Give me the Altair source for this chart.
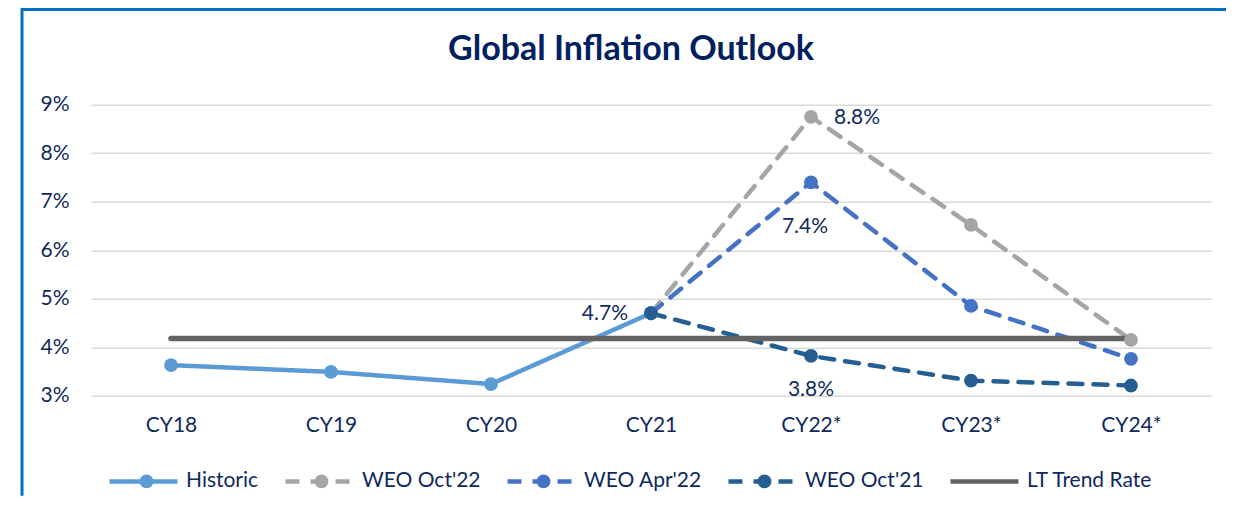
import altair as alt
import pandas as pd

# ---------------- data ----------------
categories = ["CY18", "CY19", "CY20", "CY21", "CY22*", "CY23*", "CY24*"]
series_names = ["Historic", "WEO Oct'22", "WEO Apr'22", "WEO Oct'21", "LT Trend Rate"]

historic = [3.63, 3.49, 3.24, 4.70, None, None, None]
weo_oct22 = [None, None, None, 4.70, 8.75, 6.52, 4.15]
weo_apr22 = [None, None, None, 4.70, 7.40, 4.85, 3.76]
weo_oct21 = [None, None, None, 4.70, 3.82, 3.31, 3.21]
lt_trend = [4.18, 4.18, 4.18, 4.18, 4.18, 4.18, 4.18]

label_series = ["WEO Oct'22", "WEO Apr'22", "WEO Oct'21", "WEO Oct'21"]
label_cats = ["CY22*", "CY22*", "CY22*", "CY21"]
label_texts = ["8.8%", "7.4%", "3.8%", "4.7%"]

series_colors = ["#5B9BD5", "#A5A5A5", "#4472C4", "#255E91", "#636363"]
dash_styles = [[1, 0], [14, 11], [14, 11], [14, 11], [1, 0]]

NAVY = "#0F2A5C"
FONT = "Lato"

# ---------------- tables ----------------
rows = []
for name, vals in zip(series_names[:4], [historic, weo_oct22, weo_apr22, weo_oct21]):
    for i, (c, v) in enumerate(zip(categories, vals)):
        if v is not None:
            rows.append({"series": name, "cat": c, "value": v, "idx": i})
df = pd.DataFrame(rows)
df_lt = pd.DataFrame({"series": "LT Trend Rate", "cat": categories, "value": lt_trend,
                      "idx": list(range(len(categories)))})

lab_rows = []
for s, c, t in zip(label_series, label_cats, label_texts):
    v = df[(df.series == s) & (df.cat == c)].value.iloc[0]
    lab_rows.append({"series": s, "cat": c, "value": v, "text": t})
df_lab = pd.DataFrame(lab_rows)

# ---------------- encodings ----------------
x_enc = alt.X("cat:N", sort=categories,
              scale=alt.Scale(type="point", domain=categories, padding=0.5),
              axis=alt.Axis(title=None, domain=False, ticks=False, grid=False, labelAngle=0,
                            labelPadding=19, labelFontSize=21, labelColor=NAVY, labelFont=FONT))
y_enc = alt.Y("value:Q", scale=alt.Scale(domain=[3, 9], nice=False, zero=False),
              axis=alt.Axis(title=None, values=[3, 4, 5, 6, 7, 8, 9], labelExpr="datum.value + '%'",
                            domain=False, ticks=False, grid=True, gridColor="#D9D9D9",
                            gridWidth=1.5, labelPadding=22, labelFontSize=21,
                            labelColor=NAVY, labelFont=FONT))
color_scale = alt.Scale(domain=series_names, range=series_colors)

LEG_X, LEG_Y = 16, 340
line_leg = alt.Legend(title=None, orient="none", legendX=LEG_X, legendY=LEG_Y,
                      direction="horizontal", symbolType="stroke", symbolSize=4624,
                      symbolStrokeWidth=4.5, labelFont=FONT, labelFontSize=21,
                      labelColor=NAVY, labelOffset=6, columnPadding=17)
# marker dots drawn over the middle of each line symbol (labels hidden)
dot_leg = alt.Legend(title=None, orient="none", legendX=LEG_X + 29, legendY=LEG_Y + 26,
                     direction="horizontal", symbolType="circle", symbolSize=190,
                     symbolStrokeWidth=0, labelFont=FONT, labelFontSize=21,
                     labelOpacity=0, labelOffset=64.4, columnPadding=17)

lines = alt.Chart(df).mark_line(strokeWidth=4.5, strokeCap="round").encode(
    x=x_enc, y=y_enc,
    color=alt.Color("series:N", scale=color_scale, legend=line_leg),
    strokeDash=alt.StrokeDash("series:N", scale=alt.Scale(domain=series_names, range=dash_styles),
                              legend=line_leg),
    order="idx:Q",
)

lt_line = alt.Chart(df_lt).mark_line(strokeWidth=5.5, strokeCap="round", color="#636363").encode(
    x=x_enc, y=y_enc, order="idx:Q"
)

points = alt.Chart(df).mark_circle(size=190, opacity=1).encode(
    x=x_enc, y=y_enc,
    fill=alt.Fill("series:N", scale=alt.Scale(domain=series_names[:4], range=series_colors[:4]),
                  legend=dot_leg),
)

txt_kw = dict(font=FONT, fontSize=21, color=NAVY, baseline="middle")
lab_oct22 = alt.Chart(df_lab).transform_filter(alt.datum.text == "8.8%").mark_text(
    align="left", dx=23, dy=1, **txt_kw).encode(x=x_enc, y=y_enc, text="text:N")
lab_apr22 = alt.Chart(df_lab).transform_filter(alt.datum.text == "7.4%").mark_text(
    align="center", dx=-6, dy=45, **txt_kw).encode(x=x_enc, y=y_enc, text="text:N")
lab_oct21a = alt.Chart(df_lab).transform_filter(alt.datum.text == "3.8%").mark_text(
    align="center", dx=0, dy=34, **txt_kw).encode(x=x_enc, y=y_enc, text="text:N")
lab_oct21b = alt.Chart(df_lab).transform_filter(alt.datum.text == "4.7%").mark_text(
    align="right", dx=-23, dy=1, **txt_kw).encode(x=x_enc, y=y_enc, text="text:N")

one = pd.DataFrame({"a": [0]})
frame_left = alt.Chart(one).mark_rule(color="#0070C0", strokeWidth=3).encode(
    x=alt.value(-69), y=alt.value(-96.7), y2=alt.value(391))
frame_top = alt.Chart(one).mark_rule(color="#0070C0", strokeWidth=3).encode(
    x=alt.value(-70), x2=alt.value(1135), y=alt.value(-95.2))

chart = alt.layer(
    frame_left, frame_top, lines, lt_line, points,
    lab_oct22, lab_apr22, lab_oct21a, lab_oct21b
).properties(
    width=1120, height=291,
    autosize=alt.AutoSizeParams(type="none"),
    padding={"left": 83, "top": 96.7, "right": 15, "bottom": 100},
    title=alt.TitleParams("Global Inflation Outlook", font=FONT, fontSize=34, fontWeight="bold",
                          color="#002060", anchor="middle", dx=-20, offset=-88,
                          baseline="alphabetic"),
).configure_view(stroke=None)

chart.save("out.html", embed_options={"renderer": "svg", "actions": False})
